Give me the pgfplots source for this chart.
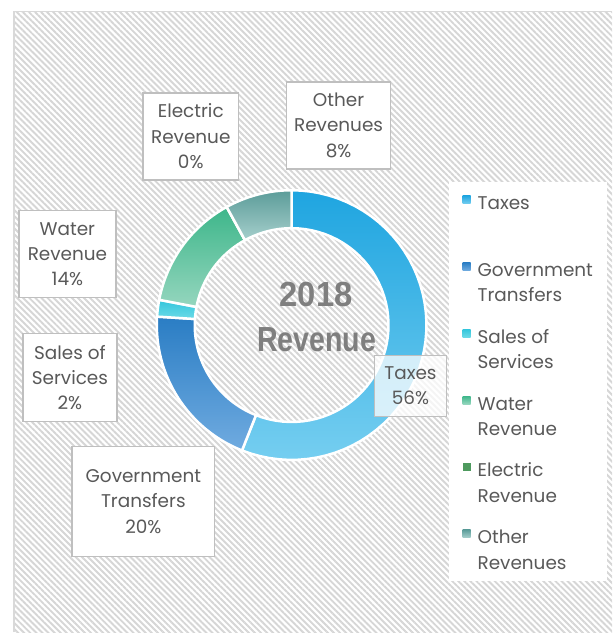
\documentclass[border=0pt]{standalone}
\usepackage{pgfplots}
\pgfplotsset{compat=1.18}
\usepackage{graphicx}
\usepackage{fontspec}
\setmainfont{Poppins}
\newfontfamily\titlefont{Liberation Sans}
\usetikzlibrary{patterns.meta}

\definecolor{labelgray}{HTML}{595959}
\definecolor{boxgray}{HTML}{BFBFBF}
\definecolor{titlegray}{HTML}{7F7F7F}
\definecolor{framegray}{HTML}{D9D9D9}
\definecolor{hatchgray}{HTML}{D6D6D6}
\definecolor{taxtop}{HTML}{1FA5E0}
\definecolor{taxbot}{HTML}{75CEF0}
\definecolor{govtop}{HTML}{2A7DC4}
\definecolor{govbot}{HTML}{70ABE0}
\definecolor{saltop}{HTML}{33C6DC}
\definecolor{salbot}{HTML}{6CDAE7}
\definecolor{wattop}{HTML}{3DB68A}
\definecolor{watbot}{HTML}{95D6BE}
\definecolor{elec}{HTML}{4E9A5E}
\definecolor{othtop}{HTML}{5B9C99}
\definecolor{othbot}{HTML}{A6CFCC}

\def\cx{292}\def\cy{307.5}\def\Ro{135}\def\Ri{97}

% #1 cumulative start (%), #2 value (%), #3 style, #4 legend text
\newcommand\slice[4]{%
\addplot[draw=white, line width=2.5bp, #3, domain=0:3, samples=151, variable=\t]
 ({\cx+((\t<1.5)?\Ro:\Ri)*cos((\t<1.5)?((90-3.6*(#1))-3.6*(#2)*min(\t,1)):((90-3.6*(#1)-3.6*(#2))+3.6*(#2)*max(\t-2,0)))},
  {\cy+((\t<1.5)?\Ro:\Ri)*sin((\t<1.5)?((90-3.6*(#1))-3.6*(#2)*min(\t,1)):((90-3.6*(#1)-3.6*(#2))+3.6*(#2)*max(\t-2,0)))}) -- cycle;
\addlegendentry{#4}
}

\begin{document}
\begin{tikzpicture}
\begin{axis}[
  scale only axis, width=613bp, height=633bp,
  xmin=0, xmax=613, ymin=0, ymax=633,
  hide axis, clip=false,
  legend style={at={(axis cs:449,451)}, anchor=north west, fill=white, draw=none,
    inner xsep=14bp, inner ysep=10bp, row sep=22.2bp, column sep=7bp,
    font=\fontsize{18.5}{25.5}\selectfont, text=labelgray,
    nodes={inner sep=0pt, align=left}},
  legend cell align=left,
  legend image code/.code={\path[#1,draw=none] (0bp,10.65bp) rectangle (8bp,18.65bp);},
]
% background
\fill[white] (axis cs:0,0) rectangle (axis cs:613,633);
\fill[pattern={Lines[angle=-45,distance=4.3bp,line width=1.9bp]}, pattern color=hatchgray]
  (axis cs:14,0) rectangle (axis cs:613,621.3);
\draw[framegray, line width=1.6bp] (axis cs:14,0) -- (axis cs:14,621.3) -- (axis cs:613,621.3);

% data: Taxes 56, Government Transfers 20, Sales of Services 2, Water Revenue 14, Electric Revenue 0, Other Revenues 8
\slice{0}{56}{top color=taxtop, bottom color=taxbot}{\strut Taxes\\\strut}
\slice{56}{20}{top color=govtop, bottom color=govbot}{\strut Government\\\strut Transfers}
\slice{76}{2}{top color=saltop, bottom color=salbot}{\strut Sales of\\\strut Services}
\slice{78}{14}{top color=wattop, bottom color=watbot}{\strut Water\\\strut Revenue}
\slice{92}{0}{fill=elec}{\strut Electric\\\strut Revenue}
\slice{92}{8}{top color=othtop, bottom color=othbot}{\strut Other\\\strut Revenues}

% title
\node[anchor=base, text=titlegray, font=\titlefont\bfseries\fontsize{35}{40}\selectfont, inner sep=0pt]
  at (axis cs:316.5,326) {\scalebox{0.94}[1]{2018}};
\node[anchor=base, text=titlegray, font=\titlefont\bfseries\fontsize{35}{40}\selectfont, inner sep=0pt]
  at (axis cs:317,281) {\scalebox{0.82}[1]{Revenue}};

% data labels
\tikzset{lbl/.style={draw=boxgray, line width=1.5bp, fill=white, align=center, text=labelgray,
  font=\fontsize{18.5}{25.5}\selectfont, inner sep=0pt}}
\node[lbl, minimum width=96bp, minimum height=87bp] at (axis cs:191,496.5) {Electric\\Revenue\\0\%};
\node[lbl, minimum width=104bp, minimum height=87bp] at (axis cs:339,507.5) {Other\\Revenues\\8\%};
\node[lbl, minimum width=97bp, minimum height=87bp] at (axis cs:67.5,378.5) {Water\\Revenue\\14\%};
\node[lbl, minimum width=94bp, minimum height=88bp] at (axis cs:70,255) {Sales of\\Services\\2\%};
\node[lbl, minimum width=143bp, minimum height=110bp] at (axis cs:143.5,131) {Government\\Transfers\\20\%};
\node[lbl, fill opacity=0.75, text opacity=1, minimum width=72bp, minimum height=61bp] at (axis cs:411,246.5) {Taxes\\56\%};
\end{axis}
\end{tikzpicture}
\end{document}
